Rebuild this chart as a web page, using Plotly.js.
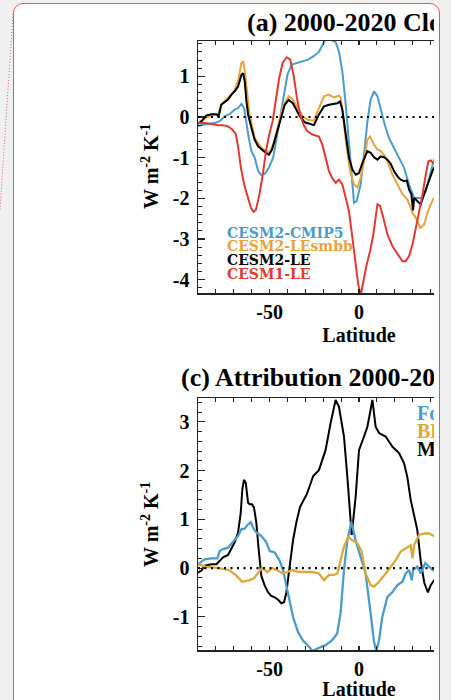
<!DOCTYPE html>
<html>
<head>
<meta charset="utf-8">
<script src="https://cdn.plot.ly/plotly-3.0.1.min.js"></script>
<style>
  html, body { margin:0; padding:0; width:451px; height:700px; overflow:hidden; background:#f0f0f0; }
  #card { position:absolute; left:13px; top:3px; width:427px; height:760px; background:#fff;
          border:1.5px solid #dd5a5a; border-radius:10px; box-sizing:border-box; }
  #deco { position:absolute; left:0; top:0; width:451px; height:700px; pointer-events:none; }
  #clip { position:absolute; left:0; top:0; width:434px; height:700px; overflow:hidden; }
  #chart { position:absolute; left:0; top:0; width:520px; height:700px; }
</style>
</head>
<body>
<div id="card"></div>
<svg id="deco" width="451" height="700"><line x1="13" y1="14" x2="0" y2="210" stroke="#e06060" stroke-width="1" stroke-dasharray="1,2"/></svg>
<div id="clip"><div id="chart"></div></div>
<script>
// ---------- Panel (a): 2000-2020 cloud feedback ----------
const latA_cmip5 = [-90,-88,-84.4,-80.7,-77.9,-75,-72.3,-69.5,-67.6,-65.7,-64.2,-62.9,-61.6,-60.1,-58.3,-56.4,-54.6,-52.7,-50.4,-48,-46.2,-44.4,-42.4,-40,-37.7,-35,-32.1,-28.4,-25.6,-22.4,-19.6,-18.7,-15.9,-13,-11.2,-9.3,-7.4,-5.6,-4.3,-2.8,-1.3,0.9,2.8,4.7,6.5,8.4,10.3,12.1,14.4,16.8,19.6,22.4,25.2,28,30.8,32.6,35.4,37.3,39.2,41.4,43];
const valA_cmip5 = [-0.23,-0.2,-0.17,-0.15,-0.1,0.02,0.07,0.18,0.22,0.32,0.22,-0.19,-0.52,-0.84,-1.0,-1.33,-1.43,-1.4,-1.25,-1.0,-0.6,-0.11,0.43,1.04,1.29,1.33,1.37,1.41,1.49,1.6,1.84,1.9,1.9,1.84,1.61,1.12,0.3,-0.68,-1.5,-2.11,-2.07,-1.66,-0.93,-0.11,0.43,0.63,0.51,0.18,-0.19,-0.52,-0.76,-0.97,-1.25,-1.66,-1.99,-1.99,-1.99,-1.83,-1.5,-1.13,-0.95];

const latA_smbb = [-90,-88,-85,-82,-79,-77,-75,-73.2,-71,-69.5,-67.6,-65.7,-64.8,-63.9,-62.4,-61.2,-58.3,-54.6,-51.8,-50,-48,-45.2,-42.4,-39.3,-37,-34.2,-31.4,-28.6,-25.2,-22.4,-19.6,-16.8,-14,-11.2,-10.2,-8.8,-6.9,-5,-2.8,-0.9,0.9,2.8,4.7,6.2,8.4,10.3,12.1,14,15.9,18.7,21.5,24.3,27.1,29.9,31.8,34.2,36.4,38.2,40.1,41.4,43];
const valA_smbb = [-0.15,-0.1,0.0,0.05,0.05,0.3,0.4,0.47,0.57,0.67,0.88,1.33,1.37,1.16,0.47,0.06,-0.52,-0.76,-0.84,-0.88,-0.68,-0.19,0.26,0.51,0.43,0.22,0.02,-0.07,-0.09,0.22,0.51,0.55,0.48,0.53,0.47,-0.02,-0.76,-1.33,-1.66,-1.73,-1.5,-1.09,-0.56,-0.48,-0.68,-0.8,-0.84,-0.93,-1.09,-1.42,-1.66,-1.9,-2.03,-2.36,-2.48,-2.73,-2.65,-2.36,-2.15,-2.03,-1.95];

const latA_le2 = [-90,-88,-85.3,-82.5,-79.7,-78.4,-77,-75,-73.2,-71.3,-69.5,-67.6,-65.7,-64.8,-63.9,-62.9,-62,-60.1,-58.3,-56.4,-54.6,-52.7,-50.4,-48.6,-46.2,-43.4,-41.5,-39.3,-37,-35,-33.1,-30.3,-27.5,-25.2,-22.4,-19.6,-16.8,-14,-12.1,-10.6,-9.3,-7.4,-5.6,-3.7,-1.8,0,1.9,4.7,6.5,8.4,10.3,12.1,14,15.9,17.7,19.6,21.5,23.3,25.2,26.7,28,29.3,30.2,30.8,32.6,34.5,36.4,38.2,40.1,41.4,43];
const valA_le2 = [-0.17,-0.1,0.04,0.07,0.07,0.02,0.3,0.38,0.43,0.55,0.63,0.75,1.04,1.08,0.88,0.38,0.06,-0.27,-0.56,-0.72,-0.8,-0.86,-0.93,-0.8,-0.43,0.02,0.3,0.42,0.34,0.18,0.02,-0.13,-0.17,-0.2,0.06,0.26,0.3,0.32,0.34,0.38,0.18,-0.43,-1.0,-1.29,-1.42,-1.38,-1.13,-0.84,-0.88,-0.99,-1.05,-0.97,-0.99,-1.05,-1.15,-1.33,-1.46,-1.54,-1.58,-1.56,-1.79,-1.9,-2.3,-1.99,-2.07,-2.15,-1.9,-1.66,-1.46,-1.29,-1.2];

const latA_le1 = [-90,-86.3,-82.5,-78.8,-76,-73.2,-70.7,-68.8,-67.5,-66,-64.2,-62.3,-60.4,-58.9,-57.6,-55.7,-53.8,-52,-50.2,-48.3,-46.5,-44.6,-42.7,-40.4,-38.4,-36.6,-34.7,-32.9,-31,-28.8,-26,-22.4,-20.5,-18.7,-16.8,-15,-13,-11.2,-9.3,-7.4,-5.6,-3.7,-1.9,-0.4,0.9,2.4,4.3,6.2,8,10.3,11.8,13.6,15.9,18.7,21.5,24.3,26.1,28,29.9,31.8,33.6,35.5,37.3,38.8,40.1,41.4,43];
const valA_le1 = [-0.15,-0.15,-0.17,-0.2,-0.2,-0.23,-0.31,-0.43,-0.76,-1.25,-1.66,-1.95,-2.24,-2.33,-2.28,-1.91,-1.42,-0.84,-0.43,-0.11,0.38,0.96,1.33,1.47,1.41,1.04,0.47,0.06,-0.19,-0.35,-0.43,-0.48,-0.68,-1.0,-1.33,-1.5,-1.62,-1.54,-1.66,-1.99,-2.32,-2.97,-3.63,-4.12,-4.4,-4.04,-3.63,-3.3,-2.89,-2.15,-2.19,-2.48,-2.89,-3.18,-3.38,-3.55,-3.55,-3.42,-3.14,-2.73,-2.32,-1.91,-1.42,-1.09,-1.07,-1.13,-1.15];

// ---------- Panel (c): attribution ----------
const latC_forcing = [-90,-86.3,-82.5,-79.2,-77.9,-76,-73.2,-70.4,-67.6,-65.7,-63.9,-62,-60.5,-59.2,-57.4,-54.6,-51.8,-49.9,-47.1,-44.3,-42.4,-40.6,-38.7,-36.8,-34,-31.2,-27.5,-26.1,-21.4,-18.7,-15,-12.2,-10.3,-8.4,-6.5,-4.3,-1.9,0.9,3.7,6.5,8.4,9.7,11.2,13,15.9,18.7,21.5,24.3,26.1,28,29.5,30.2,32.6,34.5,37,39.2,41.4,43];
const valC_forcing = [0.08,0.18,0.2,0.2,0.35,0.39,0.42,0.53,0.66,0.8,0.81,0.9,0.94,0.83,0.73,0.66,0.53,0.35,0.32,0.15,-0.05,-0.36,-0.7,-1.01,-1.32,-1.49,-1.63,-1.7,-1.62,-1.58,-1.48,-1.34,-0.93,-0.04,0.57,0.95,0.57,0.23,-0.11,-0.93,-1.51,-1.7,-1.48,-1.0,-0.59,-0.49,-0.35,-0.28,-0.11,-0.04,-0.25,-0.04,0.03,-0.11,0.1,0.03,-0.04,-0.05];

const latC_bb = [-90,-85.8,-78.4,-72.8,-69,-65.3,-61.6,-58.8,-56,-54.1,-51.3,-48.5,-45.7,-42.9,-40.1,-37.3,-33.6,-29.8,-26.1,-22.4,-19.6,-16.8,-14,-12.1,-10.3,-8.4,-6,-3.7,-0.9,1.5,3.7,6.5,8.4,11.2,14.9,17.7,20.5,23.3,26.1,28.9,29.9,30.8,33.6,36.4,39.2,41.4,43];
const valC_bb = [0.08,0.03,0.0,-0.04,-0.14,-0.28,-0.25,-0.21,-0.08,0.0,-0.08,0.0,-0.04,-0.11,-0.08,-0.04,-0.08,-0.08,-0.08,-0.11,-0.25,-0.14,-0.14,-0.11,0.16,0.44,0.64,0.57,0.51,0.34,-0.11,-0.35,-0.38,-0.28,-0.11,0.03,0.16,0.34,0.4,0.47,0.2,0.47,0.68,0.71,0.71,0.66,0.64];

const latC_model = [-90,-88,-86.3,-82.5,-79.7,-77.9,-76,-73.2,-71.3,-69.5,-67.6,-66.1,-65.2,-64.3,-63.3,-62,-61.1,-59.8,-58.7,-57.4,-56.1,-54.6,-52.7,-50.8,-49,-47.1,-45.2,-43.4,-41.9,-40.6,-38.7,-36.8,-35,-33,-31.2,-29.4,-27.5,-25.6,-22.4,-18.7,-15.9,-13.1,-11.2,-8.4,-6.5,-4.1,-1.9,0,2.8,4.7,7.5,9.3,11.2,14.9,18.7,22.4,25.2,27,28.9,30.8,32.6,34.5,36.5,38.5,40.1,41.4,43];
const valC_model = [-0.09,-0.05,0.05,0.08,0.08,0.15,0.22,0.27,0.39,0.53,0.73,1.14,1.62,1.81,1.75,1.34,1.31,1.31,1.24,0.94,0.39,-0.16,-0.36,-0.5,-0.57,-0.6,-0.65,-0.72,-0.7,-0.5,0.05,0.59,0.94,1.25,1.38,1.5,1.69,1.89,2.01,2.42,2.97,3.45,3.31,2.7,1.87,0.68,1.45,2.42,2.7,2.9,3.45,2.9,2.77,2.7,2.49,2.36,2.15,1.87,1.4,1.05,0.78,0.15,-0.3,-0.5,-0.35,-0.28,-0.2];

const xTickVals = [-50, 0];
const xTickText = ['-50', '0'];
const yTickValsA = [-4,-3,-2,-1,0,1];
const yTickTextA = ['-4','-3','-2','-1','0','1'];
const yTickValsC = [-1,0,1,2,3];
const yTickTextC = ['-1','0','1','2','3'];

const legendA = ['CESM2-CMIP5','CESM2-LEsmbb','CESM2-LE','CESM1-LE'];
const legendC = ['Forcing','BB','Model'];
const colBlue = '#4b9bcc', colOrange = '#e9a33c', colOrange2 = '#dca838', colRed = '#e23a33', colBlack = '#000000';

const W = 520, H = 700;
const serif = 'Liberation Serif, Times New Roman, serif';
const legSerif = 'DejaVu Serif, serif';
const tickFont = {family: serif, size: 20, color: '#000', weight: 'bold'};

function xAxis(anchor) {
  return {
    anchor: anchor, domain: [198/W, 1], range: [-90, 90],
    tickmode: 'array', tickvals: xTickVals, ticktext: xTickText,
    ticks: 'inside', ticklen: 4, tickwidth: 1.2, tickcolor: '#222',
    minor: {dtick: 10, tick0: 0, ticks: 'inside', ticklen: 4, tickwidth: 1.2, tickcolor: '#222'},
    showline: true, linecolor: '#222', linewidth: 1.5, mirror: 'ticks',
    showgrid: false, zeroline: false, tickfont: tickFont,
    title: {text: 'Latitude', font: {family: serif, size: 20, color: '#000', weight: 'bold'}, standoff: 6}
  };
}
function yAxis(anchor, domain, range, vals, text) {
  return {
    anchor: anchor, domain: domain, range: range,
    tickmode: 'array', tickvals: vals, ticktext: text,
    ticks: 'inside', ticklen: 7, tickwidth: 1.2, tickcolor: '#222',
    minor: {dtick: 0.2, tick0: 0, ticks: 'inside', ticklen: 3.5, tickwidth: 1, tickcolor: '#222'},
    showline: true, linecolor: '#222', linewidth: 1.5, mirror: false,
    showgrid: false, zeroline: false, tickfont: tickFont, ticklabelstandoff: 3
  };
}

const traces = [
  {x: latA_cmip5, y: valA_cmip5, xaxis: 'x', yaxis: 'y', mode: 'lines', line: {color: colBlue, width: 2}, name: legendA[0]},
  {x: latA_smbb, y: valA_smbb, xaxis: 'x', yaxis: 'y', mode: 'lines', line: {color: colOrange, width: 2}, name: legendA[1]},
  {x: latA_le2, y: valA_le2, xaxis: 'x', yaxis: 'y', mode: 'lines', line: {color: colBlack, width: 2}, name: legendA[2]},
  {x: latA_le1, y: valA_le1, xaxis: 'x', yaxis: 'y', mode: 'lines', line: {color: colRed, width: 2}, name: legendA[3]},
  {x: latC_model, y: valC_model, xaxis: 'x2', yaxis: 'y2', mode: 'lines', line: {color: colBlack, width: 2}, name: legendC[2]},
  {x: latC_forcing, y: valC_forcing, xaxis: 'x2', yaxis: 'y2', mode: 'lines', line: {color: colBlue, width: 2.3}, name: legendC[0]},
  {x: latC_bb, y: valC_bb, xaxis: 'x2', yaxis: 'y2', mode: 'lines', line: {color: colOrange2, width: 2.3}, name: legendC[1]}
];

function legAnn(text, color, xpx, ypx, size, fam) {
  return {text: text, xref: 'paper', yref: 'paper', x: xpx/W, y: 1 - ypx/H, xanchor: 'left', yanchor: 'middle',
          showarrow: false, font: {family: fam, size: size, color: color, weight: 'bold'}};
}

const annotations = [
  {text: '(a) 2000-2020 Cloud Feedback', xref: 'paper', yref: 'paper', x: 245/W, y: 1 - 23/H, xanchor: 'left', yanchor: 'middle',
   showarrow: false, font: {family: serif, size: 26, color: '#000', weight: 'bold'}},
  {text: '(c) Attribution 2000-2020', xref: 'paper', yref: 'paper', x: 179/W, y: 1 - 377/H, xanchor: 'left', yanchor: 'middle',
   showarrow: false, font: {family: serif, size: 26, color: '#000', weight: 'bold'}},
  {text: 'W m<sup>-2</sup> K<sup>-1</sup>', xref: 'paper', yref: 'paper', x: 150/W, y: 1 - 167/H, xanchor: 'center', yanchor: 'middle',
   textangle: -90, showarrow: false, font: {family: serif, size: 20, color: '#000', weight: 'bold'}},
  {text: 'W m<sup>-2</sup> K<sup>-1</sup>', xref: 'paper', yref: 'paper', x: 150/W, y: 1 - 525/H, xanchor: 'center', yanchor: 'middle',
   textangle: -90, showarrow: false, font: {family: serif, size: 20, color: '#000', weight: 'bold'}},
  legAnn(legendA[0], colBlue, 225, 233, 14, legSerif),
  legAnn(legendA[1], colOrange, 225, 246.5, 14, legSerif),
  legAnn(legendA[2], colBlack, 225, 260, 14, legSerif),
  legAnn(legendA[3], colRed, 225, 274, 14, legSerif),
  legAnn(legendC[0], colBlue, 415, 413, 20, serif),
  legAnn(legendC[1], colOrange2, 415, 431, 20, serif),
  legAnn(legendC[2], colBlack, 415, 448.5, 20, serif)
];

const shapes = [
  {type: 'line', xref: 'x', yref: 'y', x0: -90, x1: 90, y0: 0, y1: 0, line: {color: '#000', width: 2.2, dash: '2px,4.5px'}},
  {type: 'line', xref: 'x2', yref: 'y2', x0: -90, x1: 90, y0: 0, y1: 0, line: {color: '#000', width: 2.2, dash: '2px,4.5px'}}
];

const layout = {
  width: W, height: H, margin: {l: 0, r: 0, t: 0, b: 0},
  paper_bgcolor: 'rgba(0,0,0,0)', plot_bgcolor: '#ffffff',
  showlegend: false,
  xaxis: xAxis('y'),
  yaxis: yAxis('x', [1 - 293/H, 1 - 41/H], [-4.33, 1.87], yTickValsA, yTickTextA),
  xaxis2: xAxis('y2'),
  yaxis2: yAxis('x2', [1 - 650/H, 1 - 398/H], [-1.68, 3.49], yTickValsC, yTickTextC),
  annotations: annotations, shapes: shapes
};

Plotly.newPlot('chart', traces, layout, {staticPlot: true, displayModeBar: false});
</script>
</body>
</html>
